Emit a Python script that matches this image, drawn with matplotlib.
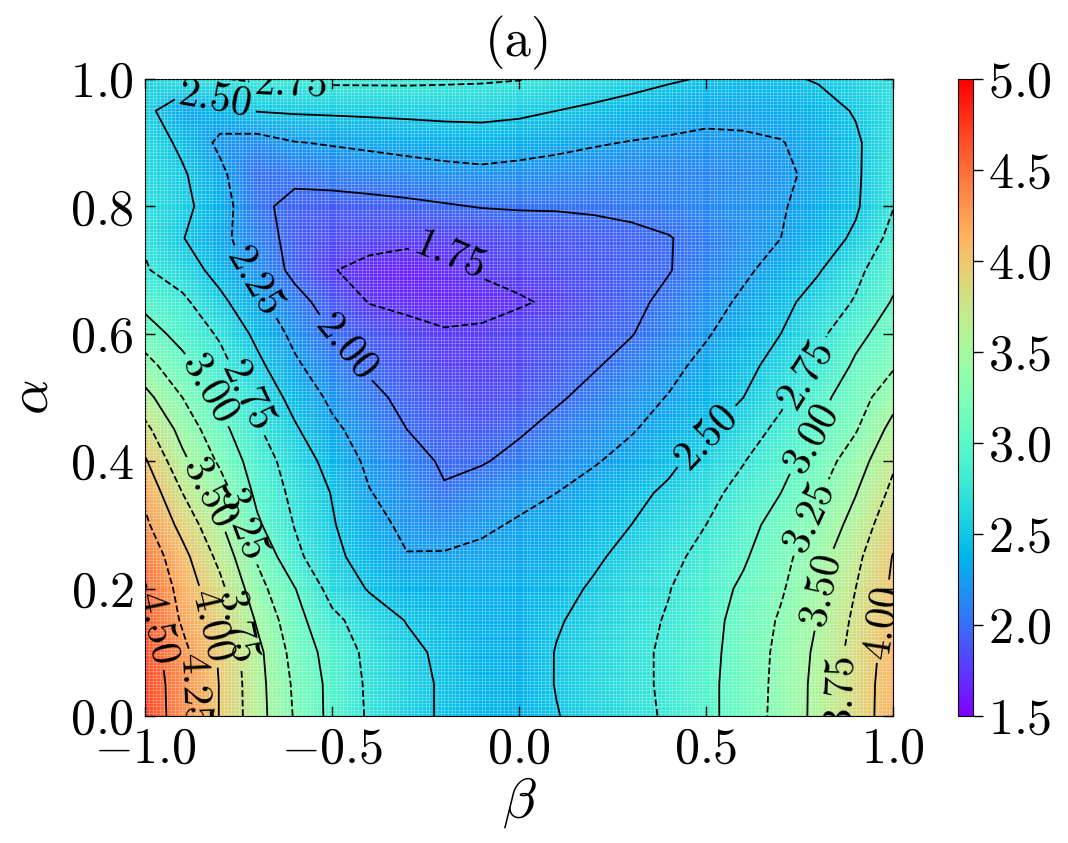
import numpy as np
import matplotlib
matplotlib.use("Agg")
import matplotlib.pyplot as plt
from matplotlib.ticker import FuncFormatter

plt.rcParams['font.family'] = 'serif'
plt.rcParams['font.serif'] = ['cmr10']
plt.rcParams['mathtext.fontset'] = 'cm'
plt.rcParams['axes.formatter.use_mathtext'] = True

# grid of the map: beta along x, alpha along y
beta = np.linspace(-1.0, 1.0, 21)
alpha = np.linspace(0.0, 1.0, 21)

# values, one row per alpha (0.00 ... 1.00), columns beta -1.0 ... 1.0
values = [
    [4.70, 4.35, 3.99, 3.60, 3.23, 2.93, 2.72, 2.58, 2.47, 2.38, 2.37, 2.49, 2.59, 2.68, 2.78, 2.94, 3.11, 3.33, 3.57, 3.86, 4.14],
    [4.68, 4.35, 3.99, 3.59, 3.21, 2.93, 2.71, 2.58, 2.47, 2.38, 2.37, 2.51, 2.60, 2.69, 2.79, 2.94, 3.11, 3.32, 3.57, 3.86, 4.13],
    [4.64, 4.32, 3.97, 3.57, 3.16, 2.90, 2.69, 2.56, 2.45, 2.37, 2.36, 2.51, 2.60, 2.69, 2.79, 2.93, 3.10, 3.31, 3.55, 3.84, 4.11],
    [4.58, 4.22, 3.91, 3.47, 3.09, 2.81, 2.63, 2.49, 2.42, 2.36, 2.36, 2.48, 2.57, 2.67, 2.77, 2.92, 3.08, 3.28, 3.51, 3.80, 4.07],
    [4.52, 4.16, 3.82, 3.34, 3.01, 2.66, 2.48, 2.38, 2.36, 2.35, 2.35, 2.42, 2.53, 2.64, 2.74, 2.89, 3.04, 3.22, 3.47, 3.75, 4.04],
    [4.43, 4.08, 3.68, 3.22, 2.81, 2.57, 2.38, 2.26, 2.27, 2.29, 2.31, 2.36, 2.46, 2.58, 2.69, 2.82, 2.97, 3.17, 3.41, 3.69, 4.01],
    [4.30, 3.92, 3.54, 3.04, 2.74, 2.52, 2.33, 2.20, 2.16, 2.22, 2.27, 2.32, 2.42, 2.50, 2.63, 2.75, 2.91, 3.10, 3.32, 3.59, 3.92],
    [4.19, 3.75, 3.38, 2.94, 2.69, 2.49, 2.26, 2.15, 2.02, 2.12, 2.20, 2.25, 2.34, 2.44, 2.54, 2.68, 2.83, 3.00, 3.22, 3.49, 3.81],
    [4.03, 3.56, 3.21, 2.87, 2.64, 2.41, 2.20, 2.09, 1.97, 1.98, 2.07, 2.15, 2.23, 2.33, 2.45, 2.59, 2.74, 2.92, 3.12, 3.38, 3.71],
    [3.82, 3.41, 3.08, 2.78, 2.53, 2.30, 2.14, 2.00, 1.92, 1.90, 1.97, 2.07, 2.15, 2.23, 2.35, 2.47, 2.63, 2.81, 3.00, 3.23, 3.58],
    [3.58, 3.25, 2.94, 2.68, 2.42, 2.20, 2.05, 1.95, 1.87, 1.84, 1.88, 1.97, 2.07, 2.17, 2.26, 2.38, 2.50, 2.70, 2.93, 3.13, 3.41],
    [3.34, 3.08, 2.83, 2.56, 2.29, 2.10, 1.97, 1.88, 1.80, 1.78, 1.82, 1.90, 1.98, 2.08, 2.19, 2.31, 2.43, 2.59, 2.78, 3.04, 3.22],
    [3.12, 2.91, 2.72, 2.44, 2.19, 2.00, 1.90, 1.82, 1.77, 1.78, 1.83, 1.88, 1.94, 1.99, 2.11, 2.23, 2.36, 2.50, 2.69, 2.93, 3.12],
    [2.93, 2.80, 2.56, 2.31, 2.08, 1.90, 1.74, 1.70, 1.67, 1.69, 1.73, 1.78, 1.87, 1.95, 2.05, 2.16, 2.29, 2.43, 2.60, 2.77, 3.02],
    [2.77, 2.63, 2.41, 2.17, 1.94, 1.76, 1.69, 1.65, 1.70, 1.77, 1.81, 1.85, 1.89, 1.94, 1.99, 2.10, 2.21, 2.34, 2.48, 2.69, 2.92],
    [2.72, 2.51, 2.32, 2.10, 1.93, 1.85, 1.82, 1.80, 1.79, 1.82, 1.86, 1.89, 1.92, 1.95, 1.99, 2.07, 2.16, 2.25, 2.38, 2.54, 2.83],
    [2.69, 2.56, 2.37, 2.04, 1.95, 1.92, 1.93, 1.95, 1.98, 2.01, 2.02, 2.02, 2.03, 2.05, 2.08, 2.13, 2.18, 2.23, 2.34, 2.47, 2.74],
    [2.66, 2.53, 2.31, 2.01, 2.04, 2.08, 2.11, 2.14, 2.17, 2.19, 2.17, 2.15, 2.13, 2.12, 2.11, 2.12, 2.15, 2.21, 2.30, 2.46, 2.72],
    [2.64, 2.45, 2.20, 2.15, 2.24, 2.27, 2.30, 2.33, 2.36, 2.38, 2.35, 2.31, 2.27, 2.24, 2.22, 2.21, 2.22, 2.24, 2.33, 2.46, 2.70],
    [2.58, 2.30, 2.38, 2.51, 2.53, 2.54, 2.55, 2.56, 2.57, 2.57, 2.55, 2.50, 2.45, 2.40, 2.35, 2.30, 2.30, 2.33, 2.40, 2.52, 2.67],
    [2.62, 2.70, 2.74, 2.78, 2.80, 2.80, 2.80, 2.80, 2.79, 2.78, 2.76, 2.71, 2.65, 2.59, 2.53, 2.48, 2.44, 2.46, 2.52, 2.60, 2.68],
]

levels = [1.75, 2.00, 2.25, 2.50, 2.75, 3.00, 3.25, 3.50, 3.75, 4.00, 4.25, 4.50]
styles = ['dashed', 'solid'] * 6

# where the contour labels sit in the picture
label_spots = [(-0.81, 0.975), (-0.61, 0.985), (-0.21, 0.70), (-0.71, 0.68),
               (-0.47, 0.575), (-0.84, 0.51), (-0.73, 0.50), (-0.83, 0.35),
               (-0.74, 0.30), (-0.95, 0.14), (-0.83, 0.14), (-0.75, 0.14),
               (-0.88, 0.04), (0.48, 0.45), (0.76, 0.54), (0.75, 0.45),
               (0.77, 0.315), (0.80, 0.20), (0.96, 0.15), (0.86, 0.04)]

Z = np.array(values)
B, A = np.meshgrid(beta, alpha)

fig = plt.figure(figsize=(10.68, 8.43), dpi=100)
ax = fig.add_axes([0.1358, 0.1507, 0.7004, 0.7556])
cax = fig.add_axes([0.897, 0.1507, 0.014, 0.7556])

mesh = ax.pcolormesh(B, A, Z, cmap='rainbow', vmin=1.5, vmax=5.0, shading='gouraud')
cs = ax.contour(B, A, Z, levels=levels, colors='black', linewidths=1.3,
                linestyles=styles, zorder=3)
ax.clabel(cs, fmt='%.2f', fontsize=30, inline=True, manual=label_spots)

# faint white lattice like the original raster
ax.set_xticks(np.arange(-1.0, 1.0001, 0.01), minor=True)
ax.set_yticks(np.arange(0.0, 1.0001, 0.005), minor=True)
ax.tick_params(which='minor', length=0)
ax.grid(which='minor', color='white', linewidth=0.5, alpha=0.35)
ax.set_axisbelow(False)

tex_fmt = FuncFormatter(lambda v, pos: r'$%.1f$' % v)

ax.set_xlim(-1, 1)
ax.set_ylim(0, 1)
ax.set_xticks([-1.0, -0.5, 0.0, 0.5, 1.0])
ax.set_yticks([0.0, 0.2, 0.4, 0.6, 0.8, 1.0])
ax.xaxis.set_major_formatter(tex_fmt)
ax.yaxis.set_major_formatter(tex_fmt)
ax.tick_params(which='major', direction='in', top=True, right=True, length=7,
               width=1, labelsize=36, pad=8)
ax.set_xlabel(r'$\beta$', fontsize=40, labelpad=2)
ax.set_ylabel(r'$\alpha$', fontsize=40, labelpad=8)
ax.set_title('(a)', fontsize=38, pad=16)

cbar = fig.colorbar(mesh, cax=cax, ticks=[1.5, 2.0, 2.5, 3.0, 3.5, 4.0, 4.5, 5.0])
cbar.ax.yaxis.set_major_formatter(tex_fmt)
cbar.ax.tick_params(labelsize=36, length=7, width=1, pad=4)

fig.savefig('out.png', dpi=100)
